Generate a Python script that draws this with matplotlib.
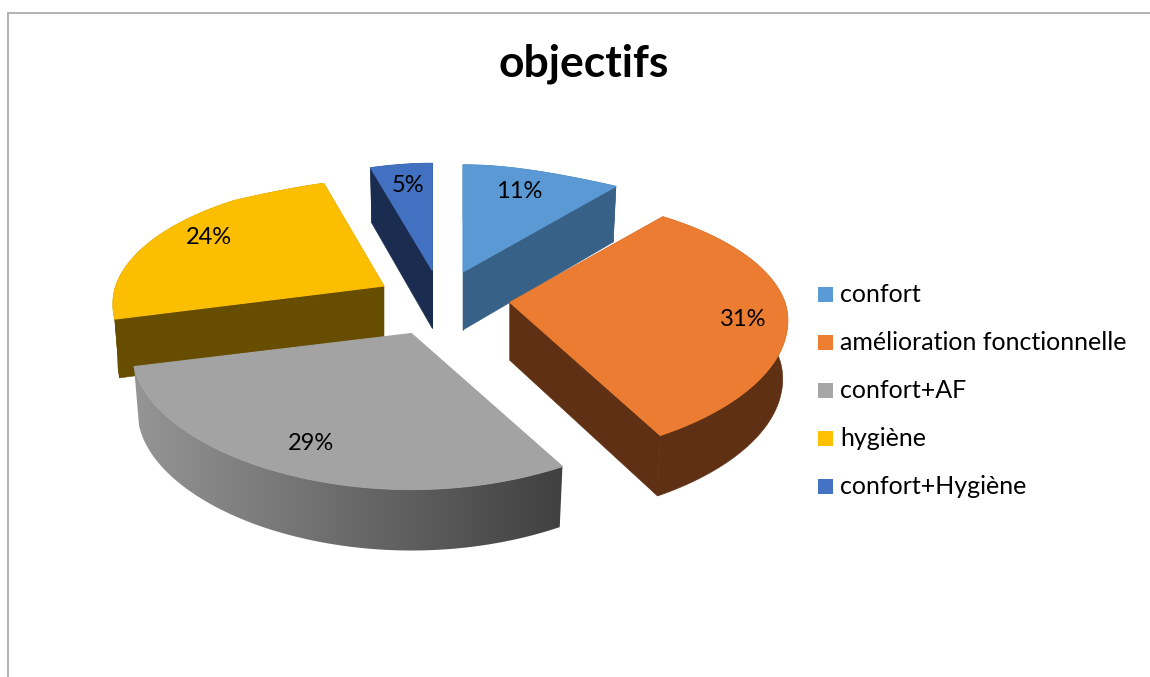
import numpy as np
import matplotlib
matplotlib.use("Agg")
import matplotlib.pyplot as plt
from matplotlib.patches import Polygon, Rectangle
from matplotlib.colors import LinearSegmentedColormap

# --- data ---
categories = ["confort", "amélioration fonctionnelle", "confort+AF", "hygiène", "confort+Hygiène"]
values = [11, 31, 29, 24, 5]
percent_labels = ["11%", "31%", "29%", "24%", "5%"]
title = "objectifs"

# --- style ---
top_colors = ["#5B9BD5", "#ED7D31", "#A5A5A5", "#FFC000", "#4472C4"]
top_draw = ["#5B99D4", "#EB7C31", "#A3A3A3", "#FBBE00", "#4271C1"]
side_colors = ["#386187", "#5F3013", "#666666", "#664D00", "#1A2D50"]
explode = [1.0, 1.1, 1.04, 1.07, 1.0]
nudge_x = [0, 0, -5, 0, 0]
nudge_y = [0, -4, -1, 0, 0]
width_adj = [1.0, 1.0, 1.005, 0.975, 1.0]
label_xy = [(519, 192), (743, 320), (311, 444), (209, 238), (408, 186)]
draw_order = [0, 4, 3, 1, 2]

W, H = 1150, 677
plt.rcParams["font.family"] = ["Lato", "DejaVu Sans"]
fig = plt.figure(figsize=(W / 100, H / 100), dpi=100)
ax = fig.add_axes([0, 0, 1, 1])
ax.axis("off")

# chart frame (top and left edges only, as cropped in the source)
ax.plot([8, 8, W], [H, 13, 13], color="#A6A6A6", lw=1.2, solid_joinstyle="miter")

# projection parameters: foreshortening of the tilted, perspective pie
RY, PERSP = 127.0, 0.186
SCALE_Y = [-1, -.876, -.25, 0, .77, .95, 1]
SCALE_X = [315, 312, 285, 275, 240, 200, 190]
CX, CY = 442.0, 303.0
EX, EY = 62.0, 33.0
BOTTOM_SHRINK = 0.982
gray_map = LinearSegmentedColormap.from_list("rim", ["#959595", "#404040"])


def project(theta):
    X, Y = np.sin(theta), np.cos(theta)
    return X * np.interp(Y, SCALE_Y, SCALE_X), -RY * Y / (1 + PERSP * Y), Y


def depth(Y):
    return 55 + 6 * (1 - Y) / 2


fractions = np.array(values) / sum(values)
edges = np.concatenate([[0], np.cumsum(fractions)]) * 2 * np.pi

for order, i in enumerate(draw_order):
    a0, a1 = edges[i], edges[i + 1]
    mid = (a0 + a1) / 2
    ax0 = CX + explode[i] * EX * np.sin(mid) + nudge_x[i]
    ay0 = CY - explode[i] * EY * np.cos(mid) + nudge_y[i]
    th = np.linspace(a0, a1, max(30, 2 * int(np.degrees(a1 - a0))))
    sx, sy, Y = project(th)
    sx = sx * width_adj[i]
    top_x, top_y = ax0 + sx, ay0 + sy
    bot_x, bot_y = ax0 + sx * BOTTOM_SHRINK, top_y + depth(Y)
    z = 2 + order
    rim = np.column_stack([np.r_[top_x, bot_x[::-1]], np.r_[top_y, bot_y[::-1]]])
    if i == 2:
        patch = Polygon(rim, closed=True, facecolor="none", edgecolor="none", zorder=z)
        ax.add_patch(patch)
        grad = np.linspace(0, 1, 256).reshape(1, -1)
        im = ax.imshow(grad, cmap=gray_map, aspect="auto", zorder=z,
                       extent=[top_x.min(), top_x.max(), bot_y.max(), top_y.min()])
        im.set_clip_path(patch)
    else:
        ax0b, ay0b = ax0, ay0 + depth(0.0)
        for ex, ey, ebx, eby in ((top_x[0], top_y[0], bot_x[0], bot_y[0]),
                                 (top_x[-1], top_y[-1], bot_x[-1], bot_y[-1])):
            ax.add_patch(Polygon([(ax0, ay0), (ex, ey), (ebx, eby), (ax0b, ay0b)], closed=True,
                                 facecolor=side_colors[i], edgecolor=side_colors[i], lw=0.4, zorder=z))
        ax.add_patch(Polygon(rim, closed=True, facecolor=side_colors[i], edgecolor=side_colors[i],
                             lw=0.4, zorder=z))
    ax.add_patch(Polygon(np.column_stack([np.r_[ax0, top_x], np.r_[ay0, top_y]]), closed=True,
                         facecolor=top_draw[i], edgecolor=top_draw[i], lw=0.8, zorder=z + 0.5))

ax.set_xlim(0, W)
ax.set_ylim(H, 0)

# title
ax.text(584, 64, title, ha="center", va="center", fontsize=32, fontweight="bold", color="black", zorder=20)

# value labels
for (lx, ly), s in zip(label_xy, percent_labels):
    ax.text(lx, ly, s, ha="center", va="center", fontsize=17, color="black", zorder=20)

# legend
for i, name in enumerate(categories):
    y = 294.5 + i * 48
    ax.add_patch(Rectangle((818, y - 7.5), 15, 15, facecolor=top_colors[i], edgecolor="none", zorder=20))
    ax.text(840, y + 0.5, name, ha="left", va="center", fontsize=18, color="black", zorder=20)

fig.savefig("out.png", dpi=100)
